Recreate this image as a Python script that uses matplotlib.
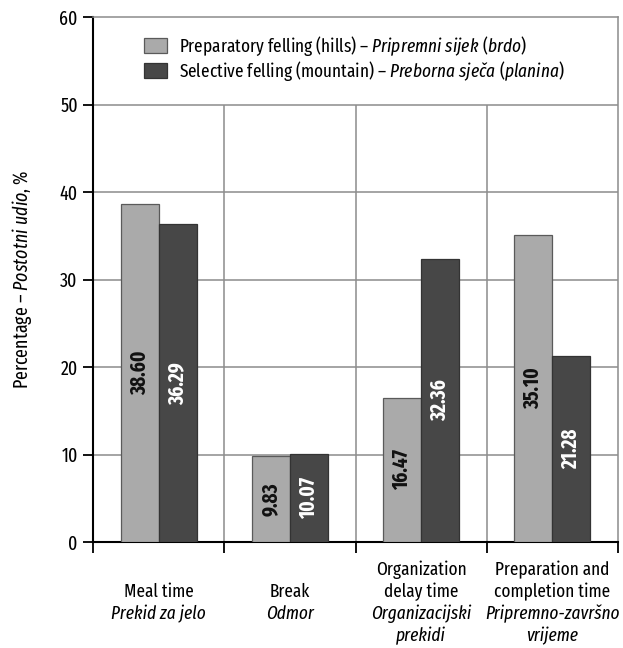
import numpy as np
import matplotlib
matplotlib.use("Agg")
import matplotlib.pyplot as plt
from matplotlib import font_manager

# Podaci
kategorije_en = [["Meal time"], ["Break"], ["Organization", "delay time"],
                 ["Preparation and", "completion time"]]
kategorije_hr = [["Prekid za jelo"], ["Odmor"], ["Organizacijski", "prekidi"],
                 ["Pripremno-završno", "vrijeme"]]
pripremni = [38.60, 9.83, 16.47, 35.10]
preborna = [36.29, 10.07, 32.36, 21.28]
oznaka_pripremni = "Preparatory felling (hills) – $\\mathit{Pripremni\\ sijek\\ (brdo)}$"
oznaka_preborna = "Selective felling (mountain) – $\\mathit{Preborna\\ sje\u010da\\ (planina)}$"
y_ticks = [0, 10, 20, 30, 40, 50, 60]

# Uski font ako postoji (po mogucnosti s bold varijantom), inace Liberation Sans
uski = [f for f in font_manager.fontManager.ttflist
        if "Narrow" in f.name or "Condensed" in f.name]
imena = sorted({f.name for f in uski},
               key=lambda n: -len({(f.weight, f.style) for f in uski if f.name == n}))
font = imena[0] if imena else "Liberation Sans"
plt.rcParams["font.family"] = [font, "DejaVu Sans"]
plt.rcParams["mathtext.fontset"] = "custom"
plt.rcParams["mathtext.rm"] = font
plt.rcParams["mathtext.it"] = font + ":italic"

svijetla = "#aaaaaa"
tamna = "#474747"
mreza = "#8c8c8c"

fig = plt.figure(figsize=(6.23, 6.48), dpi=100)
ax = fig.add_axes([93 / 623, 1 - 542 / 648, 525 / 623, 525 / 648])

x = np.arange(len(pripremni))
w = 0.29
ax.bar(x - w / 2, pripremni, w, color=svijetla, edgecolor="#5a5a5a", lw=0.9,
       label=oznaka_pripremni, zorder=3)
ax.bar(x + w / 2, preborna, w, color=tamna, edgecolor="#333333", lw=0.9,
       label=oznaka_preborna, zorder=3)

for xi, v in zip(x, pripremni):
    ax.text(xi - w / 2, v / 2, f"{v:.2f}", rotation=90, ha="center", va="center",
            fontsize=15, fontweight="bold", color="#111111", zorder=4)
for xi, v in zip(x, preborna):
    ax.text(xi + w / 2, v / 2, f"{v:.2f}", rotation=90, ha="center", va="center",
            fontsize=15, fontweight="bold", color="white", zorder=4)

ax.set_xlim(-0.5, 3.5)
ax.set_ylim(0, 60)
ax.set_yticks(y_ticks)
ax.set_yticklabels([str(t) for t in y_ticks], fontsize=14)
ax.hlines(y_ticks[1:-1], -0.5, 3.5, color=mreza, lw=1.1, zorder=1)
ax.vlines([0.5, 1.5, 2.5], 0, 50, color=mreza, lw=1.1, zorder=1)

ax.set_xticks([-0.5, 0.5, 1.5, 2.5, 3.5])
ax.set_xticklabels([])
ax.tick_params(axis="x", direction="out", length=8, width=1.3, color="black")
ax.tick_params(axis="y", direction="out", length=7, width=1.3, color="black", pad=4)

for s in ["left", "bottom"]:
    ax.spines[s].set_linewidth(1.5)
    ax.spines[s].set_color("black")
for s in ["top", "right"]:
    ax.spines[s].set_linewidth(1.1)
    ax.spines[s].set_color(mreza)

# Natpisi kategorija: engleski normalno, hrvatski kurziv
for i in range(len(kategorije_en)):
    linije = [(t, "normal") for t in kategorije_en[i]] + [(t, "italic") for t in kategorije_hr[i]]
    n = len(linije)
    for k, (t, stil) in enumerate(linije):
        pomak = -61 - (k - (n - 1) / 2) * 22
        ax.annotate(t, xy=(i, 0), xycoords=("data", "axes fraction"),
                    xytext=(0, pomak * 0.72), textcoords="offset points",
                    ha="center", va="center", fontsize=13.5, fontstyle=stil)

ax.set_ylabel("Percentage – $\\mathit{Postotni\\ udio}$, %", fontsize=14, labelpad=18)

ax.legend(loc="upper left", bbox_to_anchor=(0.097, 0.968), frameon=False,
          fontsize=13.5, handlelength=1.25, handleheight=0.85, labelspacing=0.05,
          handletextpad=0.6, borderaxespad=0, borderpad=0)

fig.savefig("out.png", dpi=100)
